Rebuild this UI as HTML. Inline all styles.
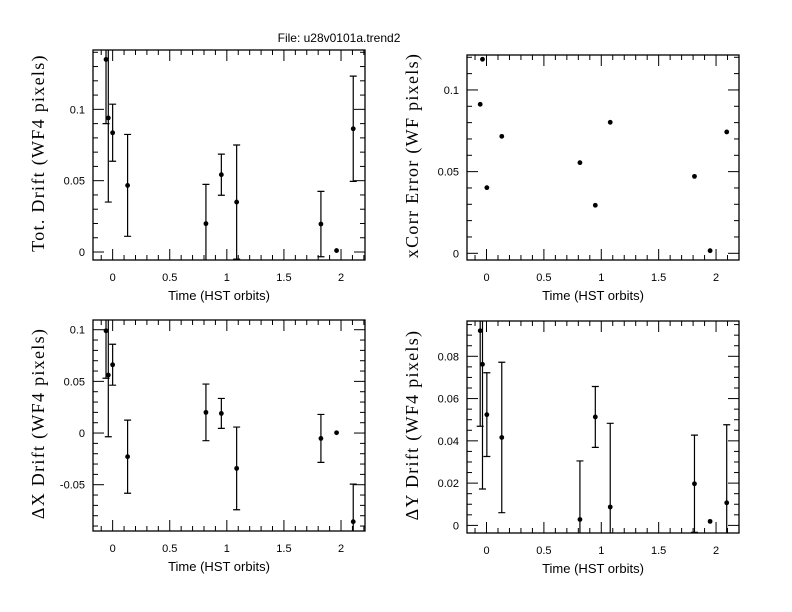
<!DOCTYPE html>
<html><head><meta charset="utf-8"><style>
html,body{margin:0;padding:0;background:#fff;}
svg{display:block;}
text{fill:#000;}
.tk{font-family:"Liberation Sans",sans-serif;font-size:11px;}
.xt{font-family:"Liberation Sans",sans-serif;font-size:13px;}
.yt{font-family:"Liberation Serif",serif;font-size:18px;letter-spacing:1.3px;}
</style></head><body>
<svg id="chart" width="792" height="612" viewBox="0 0 792 612" xmlns="http://www.w3.org/2000/svg">
<rect width="792" height="612" fill="#fff"/>
<text x="339" y="42" text-anchor="middle" class="xt" style="font-size:12px">File: u28v0101a.trend2</text>
</svg>
<script>
const times = [-0.058,-0.038,0.0,0.131,0.817,0.952,1.086,1.824,1.961,2.107];
const times2 = [-0.055,-0.035,0.003,0.133,0.814,0.948,1.078,1.812,1.948,2.093];
const totDrift = [0.135,0.094,0.0836,0.0467,0.0199,0.0542,0.035,0.0196,0.001,0.0864];
const totErr = [0.045,0.059,0.020,0.0357,0.0275,0.0144,0.040,0.0229,0,0.0369];
const xcorrErr = [0.0912,0.1188,0.0402,0.0716,0.0555,0.0294,0.0802,0.0471,0.0016,0.0743];
const dxDrift = [0.099,0.0561,0.0661,-0.0229,0.020,0.019,-0.0342,-0.0052,0.0003,-0.0858];
const dxErr = [0.046,0.0597,0.0198,0.0354,0.0274,0.0145,0.040,0.0232,0,0.0364];
const dyDrift = [0.0921,0.0762,0.0524,0.0416,0.0028,0.0513,0.0087,0.0197,0.0019,0.0107];
const dyErr = [0.0452,0.059,0.0198,0.0356,0.0277,0.0144,0.0396,0.023,0,0.0369];
const xTickLabels = ["0","0.5","1","1.5","2"];
const totTickLabels = ["0","0.05","0.1"];
const xcorrTickLabels = ["0","0.05","0.1"];
const dxTickLabels = ["-0.05","0","0.05","0.1"];
const dyTickLabels = ["0","0.02","0.04","0.06","0.08"];

const svg = document.getElementById('chart');
const NS = 'http://www.w3.org/2000/svg';
function mk(tag, attrs, parent){
  const e = document.createElementNS(NS, tag);
  for (const k in attrs) e.setAttribute(k, attrs[k]);
  parent.appendChild(e); return e;
}
function panel(cfg){
  const g = mk('g', {}, svg);
  
  
  const L=cfg.box[0], T=cfg.box[1], R=cfg.box[2], B=cfg.box[3];
  const sx = v => L + (v - cfg.xr[0])/(cfg.xr[1]-cfg.xr[0])*(R-L);
  const sy = v => B - (v - cfg.yr[0])/(cfg.yr[1]-cfg.yr[0])*(B-T);
  const frame = mk('rect', {x:L, y:T, width:R-L, height:B-T, fill:'none', stroke:'#000', 'stroke-width':1.3}, g);
  
  
  for (let i = Math.ceil(cfg.xr[0]*10); i <= Math.floor(cfg.xr[1]*10); i++){
    const v = i/10, x = sx(v), major = (i % 5 === 0), len = major ? 11 : 5;
    const t1 = mk('line', {x1:x, x2:x, y1:B, y2:B-len, stroke:'#000', 'stroke-width':1}, g);
    
    
    const t2 = mk('line', {x1:x, x2:x, y1:T, y2:T+len, stroke:'#000', 'stroke-width':1}, g);
    
    
  }
  xTickLabels.forEach(s => {
    const tl = mk('text', {x:sx(parseFloat(s)), y:B+21, 'text-anchor':'middle', class:'tk'}, g);
    tl.textContent = s;
    
    
  });
  const st = cfg.minor;
  for (let i = Math.ceil(cfg.yr[0]/st - 1e-9); i <= Math.floor(cfg.yr[1]/st + 1e-9); i++){
    const v = i*st, y = sy(v), major = (i % cfg.every === 0), len = major ? 11 : 5;
    const t1 = mk('line', {x1:L, x2:L+len, y1:y, y2:y, stroke:'#000', 'stroke-width':1}, g);
    
    
    const t2 = mk('line', {x1:R, x2:R-len, y1:y, y2:y, stroke:'#000', 'stroke-width':1}, g);
    
    
  }
  cfg.ylabels.forEach(s => {
    const tl = mk('text', {x:L-8, y:sy(parseFloat(s))+4, 'text-anchor':'end', class:'tk'}, g);
    tl.textContent = s;
    
    
  });
  const xt = mk('text', {x:(L+R)/2-10, y:B+40, 'text-anchor':'middle', class:'xt'}, g);
  xt.textContent = 'Time (HST orbits)';
  
  
  const yx = L-49, yy = (T+B)/2 - 2;
  const yt = mk('text', {x:yx, y:yy, 'text-anchor':'middle', class:'yt', transform:`rotate(-90 ${yx} ${yy})`}, g);
  yt.textContent = cfg.ytitle;
  
  
  const cp = mk('clipPath', {id:'c'+cfg.name}, g);
  mk('rect', {x:L, y:T, width:R-L, height:B-T}, cp);
  const dg = mk('g', {'clip-path':`url(#c${cfg.name})`}, g);
  cfg.xs.forEach((xv, i) => {
    const x = sx(xv), y = sy(cfg.ys[i]);
    if (cfg.err && cfg.err[i] > 0){
      const e = cfg.err[i], y1 = sy(cfg.ys[i]+e), y2 = sy(cfg.ys[i]-e);
      const eb = mk('path', {d:`M${x},${y1}V${y2}M${x-3.5},${y1}H${x+3.5}M${x-3.5},${y2}H${x+3.5}`, stroke:'#000', 'stroke-width':1.2, fill:'none'}, dg);
      
      
    }
    const p = mk('circle', {cx:x, cy:y, r:2.4, fill:'#000'}, dg);
    
    
  });
}
panel({name:'tot-drift-panel', box:[93,50,365,260], xr:[-0.172,2.21], yr:[-0.0056,0.1416], minor:0.01, every:5, ylabels:totTickLabels, ytitle:'Tot. Drift (WF4 pixels)', xs:times, ys:totDrift, err:totErr});
panel({name:'xcorr-error-panel', box:[467,55,739,260], xr:[-0.17,2.2], yr:[-0.0041,0.1214], minor:0.01, every:5, ylabels:xcorrTickLabels, ytitle:'xCorr Error (WF pixels)', xs:times2, ys:xcorrErr, err:null});
panel({name:'dx-drift-panel', box:[93,320,365,531], xr:[-0.172,2.21], yr:[-0.0948,0.1094], minor:0.01, every:5, ylabels:dxTickLabels, ytitle:'\u0394X Drift (WF4 pixels)', xs:times, ys:dxDrift, err:dxErr});
panel({name:'dy-drift-panel', box:[467,321,739,533], xr:[-0.17,2.2], yr:[-0.0036,0.0967], minor:0.005, every:4, ylabels:dyTickLabels, ytitle:'\u0394Y Drift (WF4 pixels)', xs:times2, ys:dyDrift, err:dyErr});
</script>
</body></html>
